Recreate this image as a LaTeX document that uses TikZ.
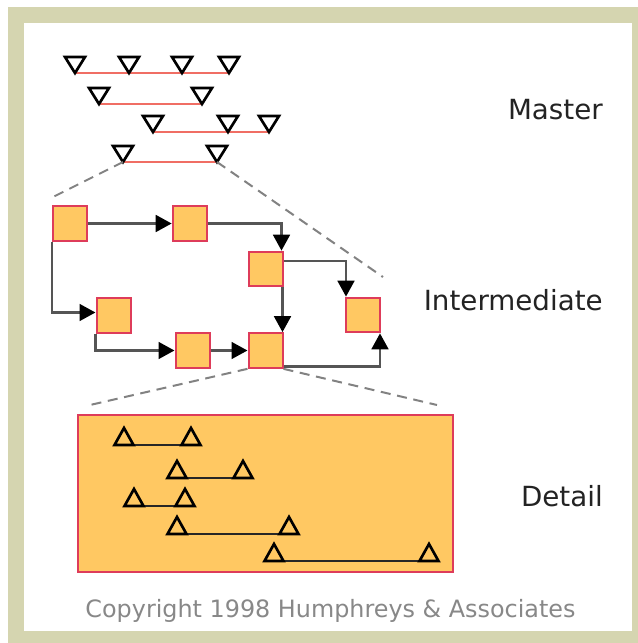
\documentclass[tikz,border=0pt]{standalone}
\usepackage{fontspec}
\setmainfont{DejaVu Sans}
\usetikzlibrary{arrows.meta,calc}
\definecolor{frameol}{RGB}{213,213,176}
\definecolor{boxfill}{RGB}{255,200,98}
\definecolor{boxedge}{RGB}{222,60,90}
\definecolor{barred}{RGB}{240,110,100}
\definecolor{conn}{RGB}{85,85,85}
\definecolor{dashg}{RGB}{130,130,130}
\definecolor{labtxt}{RGB}{35,35,35}
\definecolor{copytxt}{RGB}{136,136,136}
\tikzset{
  actbox/.style={draw=boxedge,fill=boxfill,line width=1.5pt,minimum width=25.5pt,minimum height=26pt,inner sep=0pt},
  arr/.style={draw=conn,line width=2.1pt,-{Triangle[length=12pt,width=12.5pt,fill=black,color=black]}},
  zoomline/.style={draw=dashg,line width=1.5pt,dash pattern=on 7.5pt off 5pt},
  mline/.style={draw=barred,line width=2.2pt},
  dline/.style={draw=black!85,line width=2pt},
  lab/.style={font=\fontsize{20.8pt}{24pt}\selectfont,text=labtxt,anchor=base east,inner sep=0pt},
  mdown/.pic={\draw[black,fill=white,line width=2pt,line join=miter] (-10,-16) -- (10,-16) -- (0,0) -- cycle;},
  mup/.pic={\draw[black,line width=2pt,line join=miter] (-9.5,0) -- (0,-17) -- (9.5,0) -- cycle;}
}
\begin{document}
\begin{tikzpicture}[x=0.75pt,y=-0.75pt]
\useasboundingbox (0,0) rectangle (638,643);
\fill[white] (0,0) rectangle (638,643);
\fill[frameol] (8,7) rectangle (638,643);
\fill[white] (24,23) rectangle (632,631);

% Master milestones
\coordinate (m11) at (75,73); \coordinate (m12) at (129,73); \coordinate (m13) at (182,73); \coordinate (m14) at (229,73);
\coordinate (m21) at (99,104); \coordinate (m22) at (202,104);
\coordinate (m31) at (153,132); \coordinate (m32) at (228,132); \coordinate (m33) at (269,132);
\coordinate (m41) at (123,162); \coordinate (m42) at (217,162);
\draw[mline] (m11) -- (m14);
\draw[mline] (m21) -- (m22);
\draw[mline] (m31) -- (m33);
\draw[mline] (m41) -- (m42);
\foreach \c in {m11,m12,m13,m14,m21,m22,m31,m32,m33,m41,m42} {\pic at (\c) {mdown};}

% Intermediate boxes
\node[actbox] (A) at (70,223.5) {};
\node[actbox] (B) at (189.7,223.5) {};
\node[actbox] (C) at (265.5,269) {};
\node[actbox] (D) at (363,315) {};
\node[actbox] (E) at (113.5,315.5) {};
\node[actbox] (F) at (192.5,350.5) {};
\node[actbox] (G) at (265.5,350.5) {};

% zoom guides
\coordinate (z1) at (53,197);
\coordinate (z2) at (383,277);
\coordinate (z3) at (90,405);
\coordinate (z4) at (437,405);
\draw[zoomline] (m41) -- (z1);
\draw[zoomline] (m42) -- (z2);
\draw[zoomline] (G.south west) -- (z3);
\draw[zoomline] (G.south east) -- (z4);

% connectors
\draw[arr] (A.east) -- (B.west);
\draw[arr] (B.east) -| ($(C.north east)+(-2,0)$);
\draw[arr] ($(C.east)+(0,-8)$) -| ($(D.north west)+(1,0)$);
\draw[arr] ($(C.south east)+(-1,0)$) -- ($(G.north east)+(-1,0)$);
\draw[arr] (A.south west) |- ($(E.west)+(0,-3)$);
\draw[arr] (E.south west) |- (F.west);
\draw[arr] (F.east) -- (G.west);
\draw[arr] ($(G.south east)+(0,-2.5)$) -| ($(D.south east)+(-1,0)$);

% Detail box
\node[draw=boxedge,fill=boxfill,line width=1.6pt,minimum width=281pt,minimum height=117.75pt,inner sep=0pt] (DB) at (265.5,493.5) {};
\coordinate (d11) at (124,445); \coordinate (d12) at (191,445);
\coordinate (d21) at (177,478); \coordinate (d22) at (243,478);
\coordinate (d31) at (134,506); \coordinate (d32) at (185,506);
\coordinate (d41) at (177,534); \coordinate (d42) at (289,534);
\coordinate (d51) at (274,561); \coordinate (d52) at (429,561);
\draw[dline] ($(d11)+(-9.5,0)$) -- ($(d12)+(9.5,0)$);
\draw[dline] ($(d21)+(-9.5,0)$) -- ($(d22)+(9.5,0)$);
\draw[dline] ($(d31)+(-9.5,0)$) -- ($(d32)+(9.5,0)$);
\draw[dline] ($(d41)+(-9.5,0)$) -- ($(d42)+(9.5,0)$);
\draw[dline] ($(d51)+(-9.5,0)$) -- ($(d52)+(9.5,0)$);
\foreach \c in {d11,d12,d21,d22,d31,d32,d41,d42,d51,d52} {\pic at (\c) {mup};}

% labels
\node[lab] (lm) at (603,119) {Master};
\node[lab] (li) at (603,310.7) {Intermediate};
\node[lab] (ld) at (603,506.7) {Detail};
\node[font=\fontsize{17.9pt}{21pt}\selectfont,text=copytxt,anchor=base,inner sep=0pt] (cp) at (330.5,617) {Copyright 1998 Humphreys \& Associates};
\end{tikzpicture}
\end{document}
